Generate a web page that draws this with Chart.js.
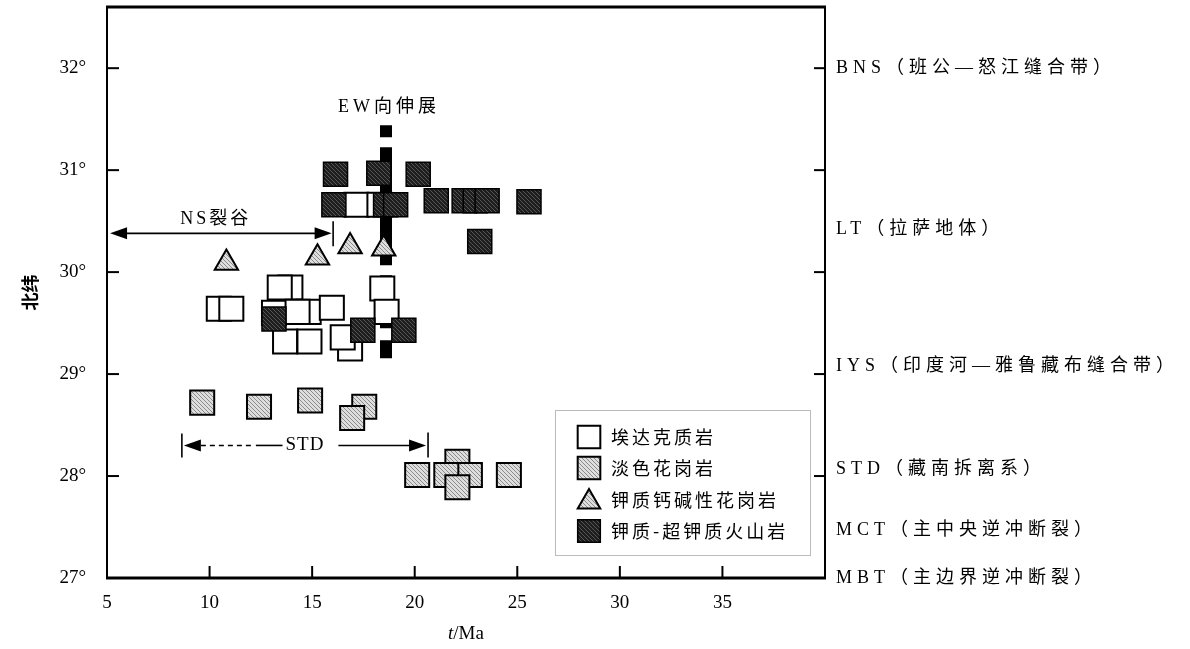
<!DOCTYPE html>
<html>
<head>
<meta charset="utf-8">
<script src="https://cdn.jsdelivr.net/npm/chart.js@4/dist/chart.umd.min.js"></script>
<style>
  html, body { margin: 0; padding: 0; background: #fff; }
  #wrap { width: 1190px; height: 649px; position: relative; }
</style>
</head>
<body>
<div id="wrap"><canvas id="chart"></canvas></div>
<script>
/* ---------- values ---------- */

const xTicks = [5, 10, 15, 20, 25, 30, 35];
const yTicks = [27, 28, 29, 30, 31, 32];

const seriesNames = ["埃达克质岩", "淡色花岗岩", "钾质钙碱性花岗岩", "钾质-超钾质火山岩"];

// 埃达克质岩 (white squares), back to front
const adakiteAge = [10.45, 11.06, 13.94, 13.42, 13.14, 14.83, 14.29, 15.96, 13.68, 14.87, 16.85, 16.49, 18.42, 18.63, 17.16, 18.28];
const adakiteLat = [29.64, 29.64, 29.85, 29.85, 29.60, 29.61, 29.61, 29.65, 29.32, 29.32, 29.25, 29.36, 29.84, 29.61, 30.66, 30.66];

// 淡色花岗岩 (grey squares)
const leucoAge = [9.64, 12.41, 14.90, 17.54, 16.95, 20.12, 22.08, 22.69, 21.54, 22.08, 24.59];
const leucoLat = [28.72, 28.68, 28.74, 28.68, 28.57, 28.01, 28.14, 28.01, 28.01, 27.89, 28.01];

// 钾质钙碱性花岗岩 (triangles)
const calcAlkAge = [10.82, 15.26, 16.85, 18.49];
const calcAlkLat = [30.09, 30.14, 30.25, 30.23];

// 钾质-超钾质火山岩 (black squares)
const potassicAge = [16.14, 18.25, 20.17, 16.06, 18.58, 19.07, 21.05, 22.41, 22.95, 23.53, 25.57, 23.17, 13.14, 17.47, 19.47];
const potassicLat = [30.96, 30.97, 30.96, 30.66, 30.66, 30.66, 30.70, 30.70, 30.70, 30.70, 30.69, 30.30, 29.54, 29.43, 29.43];

// EW extension bar
const ewAge = [18.6, 18.6];
const ewLat = [31.44, 29.15];

// arrow ranges (Ma) and their latitude
const nsRange = [5.15, 15.95];
const nsLat = 30.38;
const stdRange = [8.65, 20.65];
const stdLat = 28.30;

// belt names on the right
const beltNames = ["BNS（班公—怒江缝合带）", "LT（拉萨地体）", "IYS（印度河—雅鲁藏布缝合带）", "STD（藏南拆离系）", "MCT（主中央逆冲断裂）", "MBT（主边界逆冲断裂）"];
const beltLat = [32.0, 30.42, 29.08, 28.07, 27.47, 27.0];

/* ---------- helpers ---------- */

const SERIF = "'Liberation Serif', 'Noto Sans CJK SC', serif";

function toPoints(xs, ys) {
  return xs.map((v, i) => ({ x: v, y: ys[i] }));
}

function hatch(bg, fg) {
  const c = document.createElement("canvas");
  c.width = c.height = 4;
  const g = c.getContext("2d");
  g.fillStyle = bg;
  g.fillRect(0, 0, 4, 4);
  g.fillStyle = fg;
  for (let i = 0; i < 4; i++) g.fillRect(i, i, 1, 1);
  return g.createPattern(c, "repeat");
}

const greyFill = hatch("#dedede", "#8a8a8a");
const blackFill = hatch("#1e1e1e", "#555555");

function arrowHead(ctx, tipX, tipY, dir) {
  ctx.beginPath();
  ctx.moveTo(tipX, tipY);
  ctx.lineTo(tipX - dir * 17, tipY - 6);
  ctx.lineTo(tipX - dir * 17, tipY + 6);
  ctx.closePath();
  ctx.fill();
}

function line(ctx, x1, y1, x2, y2) {
  ctx.beginPath();
  ctx.moveTo(x1, y1);
  ctx.lineTo(x2, y2);
  ctx.stroke();
}

/* ---------- frame, ticks, notes, legend ---------- */

const overlay = {
  id: "overlay",
  afterDraw(chart) {
    const { ctx, chartArea: a, scales } = chart;
    const px = (v) => scales.x.getPixelForValue(v);
    const py = (v) => scales.y.getPixelForValue(v);

    ctx.save();
    ctx.strokeStyle = "#000";
    ctx.fillStyle = "#000";

    // frame
    ctx.lineWidth = 3;
    line(ctx, a.left - 1, a.top, a.right + 1, a.top);
    line(ctx, a.left - 1, a.bottom, a.right + 1, a.bottom);
    ctx.lineWidth = 2;
    line(ctx, a.left, a.top, a.left, a.bottom);
    line(ctx, a.right, a.top, a.right, a.bottom);

    // inward ticks
    yTicks.forEach((v) => {
      if (v === yTicks[0]) return;
      line(ctx, a.left, py(v), a.left + 12, py(v));
      line(ctx, a.right - 11, py(v), a.right, py(v));
    });
    xTicks.forEach((v) => {
      if (v === xTicks[0]) return;
      line(ctx, px(v), a.bottom, px(v), a.bottom - 12);
    });

    // NS rift arrow
    ctx.lineWidth = 1.6;
    let yA = py(nsLat);
    let xL = px(nsRange[0]);
    let xR = px(nsRange[1]);
    line(ctx, xL + 6, yA, xR - 6, yA);
    arrowHead(ctx, xL, yA, -1);
    arrowHead(ctx, xR, yA, 1);
    line(ctx, xR + 1.5, yA - 12, xR + 1.5, yA + 13);

    ctx.font = "18px " + SERIF;
    ctx.textBaseline = "middle";
    ctx.textAlign = "center";
    ctx.letterSpacing = "3px";
    ctx.fillText("NS裂谷", px(10.3), py(30.52));

    ctx.letterSpacing = "4px";
    ctx.fillText("EW向伸展", px(18.75), py(31.62));

    // STD arrow
    yA = py(stdLat);
    xL = px(stdRange[0]);
    xR = px(stdRange[1]);
    const mid = (xL + xR) / 2;
    line(ctx, xL, yA - 12, xL, yA + 12);
    line(ctx, xR, yA - 13, xR, yA + 12);
    arrowHead(ctx, xL + 2, yA, -1);
    arrowHead(ctx, xR - 2, yA, 1);
    ctx.setLineDash([5, 4]);
    line(ctx, xL + 19, yA, xL + 71, yA);
    ctx.setLineDash([]);
    ctx.letterSpacing = "1px";
    ctx.font = "19px " + SERIF;
    const tw = ctx.measureText("STD").width;
    line(ctx, xL + 74, yA, mid - tw / 2 - 3, yA);
    line(ctx, mid + tw / 2 + 14, yA, xR - 15, yA);
    ctx.fillText("STD", mid, yA);

    // belt names on the right
    ctx.textAlign = "left";
    ctx.font = "18px " + SERIF;
    ctx.letterSpacing = "5px";
    beltNames.forEach((t, i) => ctx.fillText(t, a.right + 11, py(beltLat[i])));

    // x axis title with italic t
    ctx.letterSpacing = "0px";
    ctx.font = "italic 19px " + SERIF;
    const tW = ctx.measureText("t").width;
    ctx.font = "19px " + SERIF;
    const mW = ctx.measureText("/Ma").width;
    const cx = (a.left + a.right) / 2 - (tW + mW) / 2;
    ctx.font = "italic 19px " + SERIF;
    ctx.fillText("t", cx, 634);
    ctx.font = "19px " + SERIF;
    ctx.fillText("/Ma", cx + tW, 634);

    // legend box
    const lx = a.left + 448, ly = 410, lw = 255, lh = 145;
    ctx.lineWidth = 1;
    ctx.strokeStyle = "#777";
    ctx.setLineDash([1, 1]);
    ctx.strokeRect(lx + 0.5, ly + 0.5, lw, lh);
    ctx.setLineDash([]);

    const rows = [437, 468, 500, 531];
    ctx.font = "18px 'Noto Sans CJK SC', sans-serif";
    ctx.letterSpacing = "3px";
    chart.data.datasets.slice(0, 4).forEach((ds, i) => {
      ctx.fillStyle = ds.backgroundColor;
      ctx.strokeStyle = "#000";
      ctx.lineWidth = ds.borderWidth;
      Chart.helpers.drawPoint(ctx, {
        pointStyle: ds.pointStyle,
        radius: ds.pointStyle === "triangle" ? 13 : 16,
        rotation: 0,
        borderWidth: ds.borderWidth
      }, lx + 34, rows[i] + (ds.pointStyle === "triangle" ? 2 : 0));
      ctx.fillStyle = "#000";
      ctx.fillText(seriesNames[i], lx + 56, rows[i]);
    });

    ctx.restore();
  }
};

/* ---------- chart ---------- */

const tickFont = { family: SERIF, size: 19 };

new Chart(document.getElementById("chart"), {
  type: "scatter",
  data: {
    datasets: [
      {
        label: seriesNames[0],
        data: toPoints(adakiteAge, adakiteLat),
        pointStyle: "rect",
        pointRadius: 17,
        pointHoverRadius: 17,
        backgroundColor: "#ffffff",
        borderColor: "#000",
        borderWidth: 2,
        order: 3
      },
      {
        label: seriesNames[1],
        data: toPoints(leucoAge, leucoLat),
        pointStyle: "rect",
        pointRadius: 17,
        pointHoverRadius: 17,
        backgroundColor: greyFill,
        borderColor: "#000",
        borderWidth: 2,
        order: 2
      },
      {
        label: seriesNames[2],
        data: toPoints(calcAlkAge, calcAlkLat),
        pointStyle: "triangle",
        pointRadius: 13.5,
        pointHoverRadius: 13.5,
        backgroundColor: greyFill,
        borderColor: "#000",
        borderWidth: 2,
        order: 1
      },
      {
        label: seriesNames[3],
        data: toPoints(potassicAge, potassicLat),
        pointStyle: "rect",
        pointRadius: 17,
        pointHoverRadius: 17,
        backgroundColor: blackFill,
        borderColor: "#000",
        borderWidth: 1.5,
        order: 0
      },
      {
        label: "EW",
        type: "line",
        data: toPoints(ewAge, ewLat),
        borderColor: "#000",
        borderWidth: 12,
        borderCapStyle: "butt",
        borderDash: [12, 10, 118, 10, 53, 12, 18, 300],
        pointRadius: 0,
        showLine: true,
        order: 5
      }
    ]
  },
  options: {
    responsive: true,
    maintainAspectRatio: false,
    animation: false,
    events: [],
    layout: { autoPadding: false, padding: { left: 0, right: 365, top: 7, bottom: 0 } },
    plugins: {
      legend: { display: false },
      tooltip: { enabled: false }
    },
    scales: {
      x: {
        type: "linear",
        min: 5,
        max: 40,
        border: { display: false },
        grid: { display: false, drawTicks: false },
        afterBuildTicks: (s) => { s.ticks = xTicks.map((v) => ({ value: v })); },
        afterFit: (s) => {
          s.height = 71;
          s.paddingLeft = 0;
          s.paddingRight = 0;
        },
        ticks: {
          color: "#000",
          font: tickFont,
          padding: 14,
          maxRotation: 0
        }
      },
      y: {
        type: "linear",
        min: 27,
        max: 32.6,
        border: { display: false },
        grid: { display: false, drawTicks: false },
        afterBuildTicks: (s) => { s.ticks = yTicks.map((v) => ({ value: v })); },
        afterFit: (s) => {
          s.width = 107;
          s.paddingTop = 0;
          s.paddingBottom = 0;
        },
        title: {
          display: true,
          text: "北纬",
          color: "#000",
          font: { family: "'Noto Sans CJK SC', sans-serif", size: 18, weight: "bold" },
          padding: { top: 19, bottom: 0 }
        },
        ticks: {
          color: "#000",
          font: tickFont,
          padding: 21,
          callback: (v) => v + "°"
        }
      }
    }
  },
  plugins: [overlay]
});
</script>
</body>
</html>
